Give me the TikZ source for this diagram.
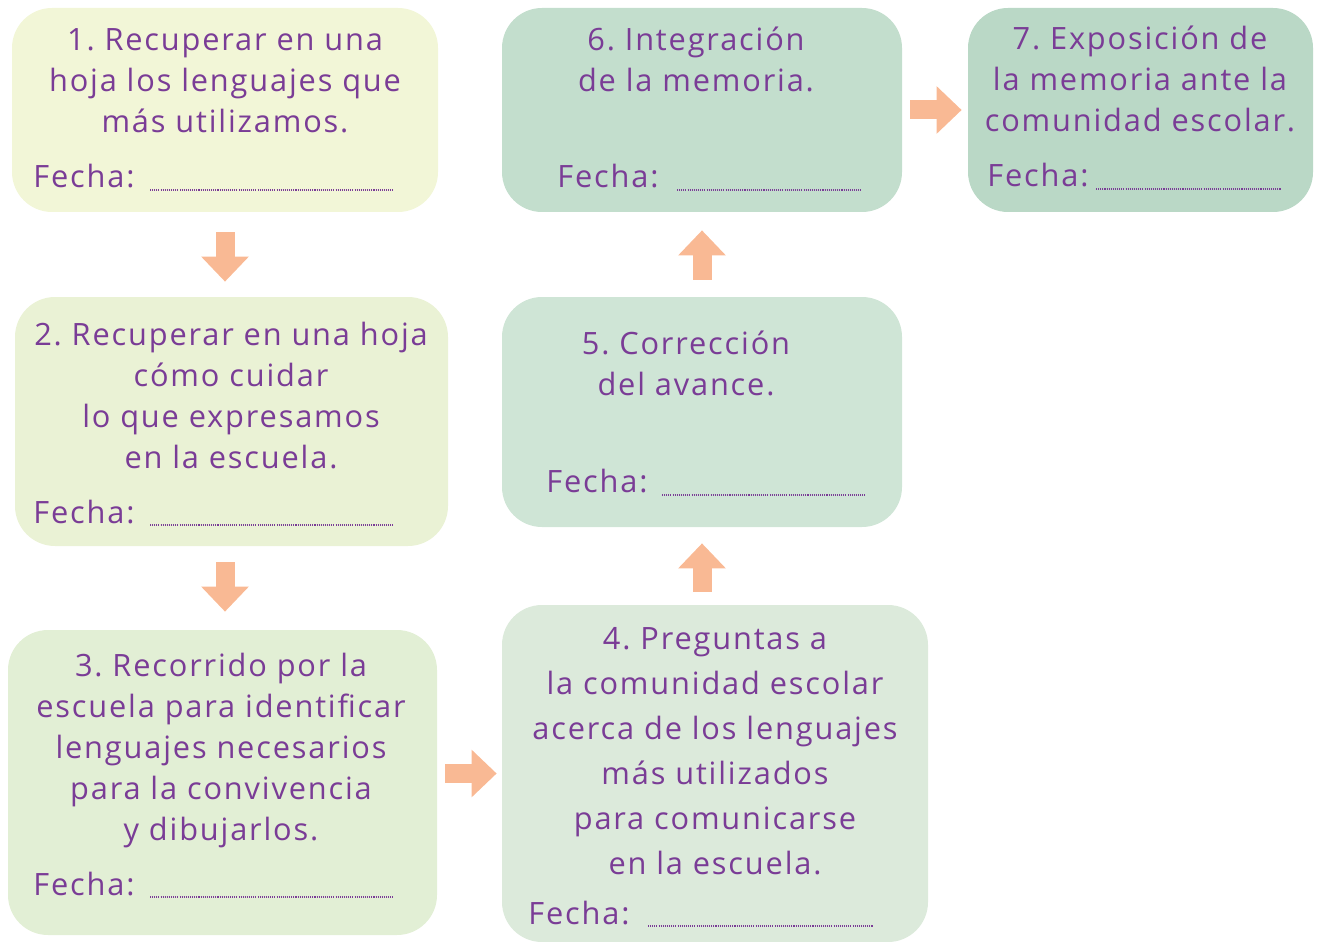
\documentclass[tikz,border=0pt]{standalone}
\usepackage{fontspec}
\setmainfont[LetterSpace=6]{Open Sans}
\frenchspacing
\usetikzlibrary{fit,arrows.meta}
\definecolor{morado}{RGB}{122,60,150}
\definecolor{naranja}{RGB}{249,185,148}
\definecolor{cuno}{RGB}{242,246,215}
\definecolor{cdos}{RGB}{234,242,213}
\definecolor{ctres}{RGB}{226,239,213}
\definecolor{ccuatro}{RGB}{220,234,219}
\definecolor{ccinco}{RGB}{207,229,214}
\definecolor{cseis}{RGB}{195,222,205}
\definecolor{csiete}{RGB}{186,216,198}
\tikzset{
	caja/.style={draw=none, rounded corners=0.8cm, inner sep=0pt},
	texto/.style={text=morado, align=center, anchor=north, inner sep=0pt, font=\fontsize{17.5}{23.3}\selectfont},
	fecha/.style={text=morado, anchor=base west, inner sep=0pt, font=\fontsize{17.5}{20}\selectfont},
	puntos/.style={morado, line width=0.8pt, dash pattern=on 0.6pt off 0.6pt},
	flecha/.style={naranja, line width=0.38cm, -{Triangle[width=0.92cm,length=0.5cm]}}
}
\begin{document}
\begin{tikzpicture}[x=0.02cm,y=-0.02cm]
		\useasboundingbox (0,0) rectangle (1317,942);
		% cajas
		\node[caja, fill=cuno, fit={(12,8) (438,212)}] (b1) {};
		\node[caja, fill=cdos, fit={(15,297) (448,546)}] (b2) {};
		\node[caja, fill=ctres, fit={(8,630) (437,935)}] (b3) {};
		\node[caja, fill=ccuatro, fit={(502,605) (928,942)}] (b4) {};
		\node[caja, fill=ccinco, fit={(502,297) (902,527)}] (b5) {};
		\node[caja, fill=cseis, fit={(502,8) (902,212)}] (b6) {};
		\node[caja, fill=csiete, fit={(968,8) (1313,212)}] (b7) {};
		% textos
		\node[texto] (t1) at (225,28) {1. Recuperar en una\\hoja los lenguajes que\\más utilizamos.};
		\node[texto] (t2) at (231,322) {2. Recuperar en una hoja\\cómo cuidar\\lo que expresamos\\en la escuela.};
		\node[texto] (t3) at (221,653) {3. Recorrido por la\\escuela para identificar\\lenguajes necesarios\\para la convivencia\\y dibujarlos.};
		\node[texto, font=\fontsize{17.5}{25.6}\selectfont] (t4) at (715,627) {4. Preguntas a\\la comunidad escolar\\acerca de los lenguajes\\más utilizados\\para comunicarse\\en la escuela.};
		\node[texto] (t5) at (686,331) {5. Corrección\\del avance.};
		\node[texto] (t6) at (696,27) {6. Integración\\de la memoria.};
		\node[texto] (t7) at (1140,26) {7. Exposición de\\la memoria ante la\\comunidad escolar.};
		% fechas
		\node[fecha] (f1) at (33,188) {Fecha:};
		\node[fecha] (f2) at (33,523) {Fecha:};
		\node[fecha] (f3) at (33,895) {Fecha:};
		\node[fecha] (f4) at (528,924) {Fecha:};
		\node[fecha] (f5) at (546,492) {Fecha:};
		\node[fecha] (f6) at (557,188) {Fecha:};
		\node[fecha] (f7) at (987,187) {Fecha:};
		\draw[puntos] (150,190)--(393,190);
		\draw[puntos] (150,525)--(393,525);
		\draw[puntos] (150,897)--(393,897);
		\draw[puntos] (648,926)--(873,926);
		\draw[puntos] (662,495)--(865,495);
		\draw[puntos] (677,190)--(861,190);
		\draw[puntos] (1096,189)--(1281,189);
		% flechas
		\draw[flecha] ([yshift=-0.4cm]b1.south) -- ([yshift=0.3cm]b1.south |- b2.north);
		\draw[flecha] ([yshift=-0.32cm]b1.south |- b2.south) -- ([yshift=0.36cm]b1.south |- b3.north);
		\draw[flecha] ([xshift=0.16cm]b3.east |- b4.west) -- ([xshift=-0.1cm]b4.west);
		\draw[flecha] ([yshift=0.26cm]b5.south |- b4.north) -- ([yshift=-0.32cm]b5.south);
		\draw[flecha] ([yshift=0.34cm]b5.north) -- ([yshift=-0.36cm]b5.north |- b6.south);
		\draw[flecha] ([xshift=0.16cm]b6.east) -- ([xshift=-0.12cm]b7.west);
	\end{tikzpicture}
\end{document}
